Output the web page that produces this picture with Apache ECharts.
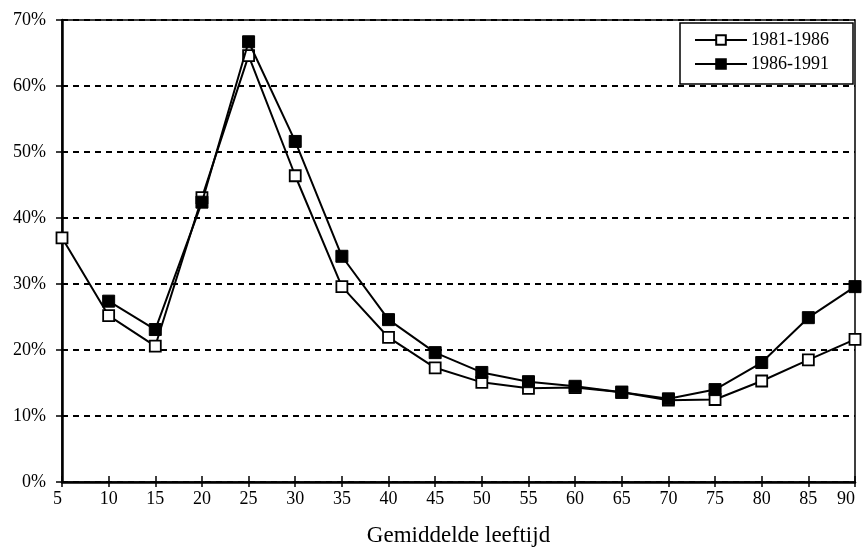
<!DOCTYPE html>
<html><head><meta charset="utf-8">
<script src="https://cdn.jsdelivr.net/npm/echarts@6/dist/echarts.min.js"></script>
<style>html,body{margin:0;padding:0;background:#fff}#c{width:862px;height:550px}</style>
</head><body><div id="c"></div>
<script>
const ages = ['5','10','15','20','25','30','35','40','45','50','55','60','65','70','75','80','85','90'];
const s1981 = [37.0,25.2,20.6,43.1,64.6,46.4,29.6,21.9,17.3,15.1,14.2,14.3,13.6,12.4,12.5,15.3,18.5,21.6];
const s1986 = [null,27.4,23.1,42.4,66.7,51.6,34.2,24.6,19.6,16.6,15.2,14.5,13.6,12.6,14.0,18.1,24.9,29.6];
const yTicks = [0,10,20,30,40,50,60,70];
const font = '"Liberation Serif", "Times New Roman", serif';
const chart = echarts.init(document.getElementById('c'), null, {renderer:'canvas'});
chart.setOption({
  animation:false,
  backgroundColor:'#fff',
  grid:{left:62,right:7,top:20,bottom:68,show:true,borderColor:'#000',borderWidth:1.5,outerBoundsMode:'none',containLabel:false},
  legend:{
    right:9,top:23,orient:'vertical',itemWidth:52,itemHeight:12,itemGap:6,
    padding:[8,24,11,14],
    backgroundColor:'#fff',borderColor:'#000',borderWidth:1.5,borderRadius:0,
    textStyle:{fontFamily:font,fontSize:18,color:'#000',padding:[0,0,0,-1]},
    data:['1981-1986','1986-1991']
  },
  xAxis:[{
    type:'category',data:ages,boundaryGap:false,
    axisLine:{lineStyle:{color:'#000',width:2.5}},
    axisTick:{show:true,length:5,lineStyle:{color:'#000',width:1.5},alignWithLabel:true},
    axisLabel:{color:'#000',fontFamily:font,fontSize:18,margin:8,interval:0,alignMinLabel:'right',alignMaxLabel:'right'},
    splitLine:{show:false},
    name:'Gemiddelde leeftijd',nameLocation:'middle',nameGap:42,
    nameTextStyle:{color:'#000',fontFamily:font,fontSize:23,padding:[0,0,0,0]}
  },{
    type:'category',data:ages,boundaryGap:false,position:'bottom',offset:0,
    axisLine:{show:false},
    axisTick:{show:true,inside:true,length:6,lineStyle:{color:'#000',width:1.5}},
    axisLabel:{show:false},splitLine:{show:false}
  }],
  yAxis:[{
    type:'value',min:0,max:70,interval:10,
    axisLine:{show:true,lineStyle:{color:'#000',width:2.5}},
    axisTick:{show:true,length:6,lineStyle:{color:'#000',width:1.5}},
    axisLabel:{color:'#000',fontFamily:font,fontSize:18,margin:16,formatter:function(v){return yTicks.indexOf(v)>=0? v+'%':'';}},
    splitLine:{show:true,lineStyle:{color:'#000',type:[6,5],width:1.8}}
  },{
    type:'value',min:0,max:70,interval:10,position:'left',offset:0,
    axisLine:{show:false},
    axisTick:{show:true,inside:true,length:3,lineStyle:{color:'#000',width:1.5}},
    axisLabel:{show:false},splitLine:{show:false}
  }],
  series:[{
    name:'1981-1986',type:'line',data:s1981,symbol:'rect',symbolSize:11,
    lineStyle:{color:'#000',width:2},
    itemStyle:{color:'#fff',borderColor:'#000',borderWidth:1.8},
    z:3
  },{
    name:'1986-1991',type:'line',data:s1986,symbol:'rect',symbolSize:12,
    lineStyle:{color:'#000',width:2},
    itemStyle:{color:'#000',borderColor:'#000',borderWidth:1},
    z:4
  }]
});
</script></body></html>
